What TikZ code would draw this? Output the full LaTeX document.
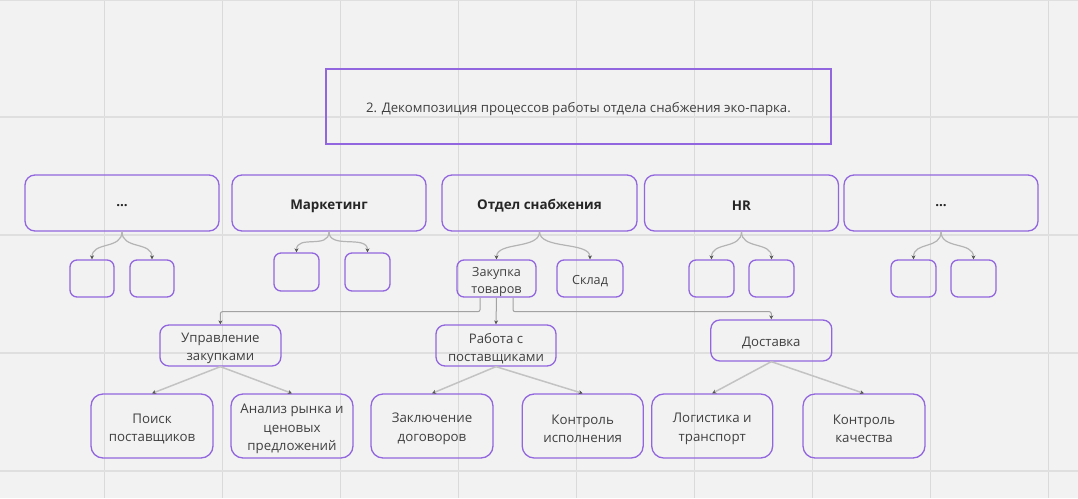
\documentclass[tikz,border=0pt]{standalone}
\usepackage{fontspec}
\setmainfont{Open Sans}
\usetikzlibrary{arrows.meta}
\definecolor{bgc}{HTML}{F2F2F2}
\definecolor{gridc}{HTML}{DADADA}
\definecolor{boxc}{RGB}{146,102,222}
\definecolor{linec}{HTML}{B4B4B4}
\definecolor{tipc}{HTML}{555555}
\definecolor{txtc}{HTML}{404040}
\definecolor{boldc}{HTML}{262626}
\tikzset{
  base/.style={draw=boxc, line width=1.3pt, inner sep=0pt},
  titlebox/.style={base, rounded corners=0pt, line width=1.2pt},
  topbox/.style={base, rounded corners=10pt},
  smallbox/.style={base, rounded corners=7pt},
  midbox/.style={base, rounded corners=9pt},
  leafbox/.style={base, rounded corners=12pt},
  lbl/.style={inner sep=0pt, align=center, text=txtc},
  titlelbl/.style={lbl, font=\fontsize{13.2}{17}\selectfont},
  toplbl/.style={lbl, text=boldc, font=\bfseries\fontsize{13.4}{16}\selectfont},
  smalllbl/.style={lbl, font=\fontsize{12.6}{17}\selectfont},
  midlbl/.style={lbl, font=\fontsize{13.2}{18.6}\selectfont},
  leaflbl/.style={lbl, font=\fontsize{13.3}{18.6}\selectfont},
  tip/.style={-{Stealth[length=4pt,width=4pt,color=tipc]}},
  curvelink/.style={tip, draw=linec, line width=1.2pt},
  ortholink/.style={tip, draw=linec!90!black, line width=1pt, rounded corners=2pt},
  straightlink/.style={tip, draw=linec!80!white, line width=1.5pt},
}
% #1 box style, #2 name, #3 cx, #4 cy, #5 w, #6 h, #7 label style, #8 text
\newcommand{\bx}[8]{%
  \node[#1, minimum width=#5pt, minimum height=#6pt] (#2) at (#3,#4) {};
  \node[#7] (#2txt) at ([yshift=-3pt]#2.center) {#8};}
\begin{document}
\begin{tikzpicture}[x=1pt,y=-1pt]
\useasboundingbox (0,0) rectangle (1078,498);
\fill[bgc] (0,0) rectangle (1078,498);
% grid
\foreach \gx in {104.3,222.3,340.3,458.3,576.3,694.3,812.3,930.3,1048.3}
  \draw[gridc, line width=0.9pt] (\gx,0) -- (\gx,498);
\foreach \gy in {0.5,117,235,353,471}
  \draw[gridc!80!bgc, line width=1.2pt] (0,\gy) -- (1078,\gy);

% title
\bx{titlebox}{title}{578.5}{106.5}{505}{75}{titlelbl}{2. Декомпозиция процессов работы отдела снабжения эко-парка.}

% top row
\bx{topbox}{t1}{122}{203}{194}{56}{toplbl}{...}
\bx{topbox}{t2}{329}{203}{194}{56}{toplbl}{Маркетинг}
\bx{topbox}{t3}{539.5}{203}{195}{56}{toplbl}{Отдел снабжения}
\bx{topbox}{t4}{741.5}{203}{194}{56}{toplbl}{HR}
\bx{topbox}{t5}{941}{203}{194}{56}{toplbl}{...}

% second row
\node[smallbox, minimum width=44pt, minimum height=37pt] (a1) at (92,278.5) {};
\node[smallbox, minimum width=44pt, minimum height=37pt] (a2) at (152,278.5) {};
\node[smallbox, minimum width=45pt, minimum height=38pt] (m1) at (296.5,272) {};
\node[smallbox, minimum width=45pt, minimum height=38pt] (m2) at (367.5,272) {};
\bx{smallbox}{zak}{496.5}{278.5}{79}{37}{smalllbl}{Закупка\\товаров}
\bx{smallbox}{sklad}{590}{278.5}{66}{37}{smalllbl}{Склад}
\node[smallbox, minimum width=45pt, minimum height=37pt] (h1) at (711.5,278.5) {};
\node[smallbox, minimum width=45pt, minimum height=37pt] (h2) at (771.5,278.5) {};
\node[smallbox, minimum width=45pt, minimum height=37pt] (e1) at (913.5,278.5) {};
\node[smallbox, minimum width=45pt, minimum height=37pt] (e2) at (973.5,278.5) {};

% third row
\bx{midbox}{upr}{220.4}{345.5}{121}{41}{midlbl}{Управление\\закупками}
\bx{midbox}{rab}{496}{345.5}{120}{41}{midlbl}{Работа с\\поставщиками}
\bx{midbox}{dost}{771.3}{340.5}{121}{41}{midlbl}{Доставка}

% fourth row
\bx{leafbox}{poisk}{152}{426}{122}{64}{leaflbl}{Поиск\\поставщиков}
\bx{leafbox}{analiz}{292}{426}{122}{64}{leaflbl}{Анализ рынка и\\ценовых\\предложений}
\bx{leafbox}{zakl}{432}{426}{122}{64}{leaflbl}{Заключение\\договоров}
\bx{leafbox}{kontr}{582.7}{426}{121}{64}{leaflbl}{Контроль\\исполнения}
\bx{leafbox}{logi}{712.2}{426}{121}{64}{leaflbl}{Логистика и\\транспорт}
\bx{leafbox}{kach}{864}{426}{122}{64}{leaflbl}{Контроль\\качества}

% curved connectors from top row
\foreach \p/\c in {t1/a1,t1/a2,t2/m1,t2/m2,t3/zak,t3/sklad,t4/h1,t4/h2,t5/e1,t5/e2}
  \draw[curvelink] (\p.south) .. controls +(0,18) and +(0,-18) .. (\c.north);

% orthogonal connectors from Закупка товаров
\draw[ortholink] ([xshift=-16.5pt]zak.south) -- ++(0,14) -| (upr.north);
\draw[ortholink] (zak.south) -- (rab.north);
\draw[ortholink] ([xshift=16.5pt]zak.south) -- ++(0,14) -| (dost.north);

% straight connectors
\foreach \p/\c in {upr/poisk,upr/analiz,rab/zakl,rab/kontr,dost/logi,dost/kach}
  \draw[straightlink] (\p.south) -- (\c.north);
\end{tikzpicture}
\end{document}
